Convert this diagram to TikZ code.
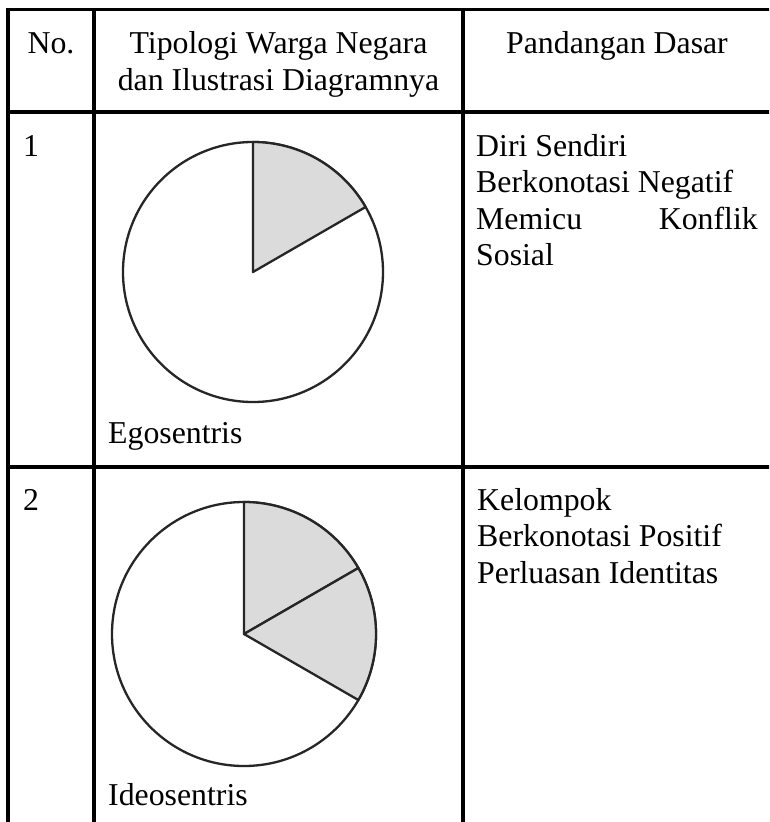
\documentclass[tikz,border=0pt]{standalone}
\usepackage{fontspec}
\setmainfont{Liberation Serif}
\tikzset{
  rule/.style={line width=3.2pt},
  cell/.style={inner sep=0pt, font=\fontsize{31.8}{36.6}\selectfont},
  pierim/.style={line width=2.3pt, draw=black!85},
  wedge/.style={fill=black!14, draw=black!85, line width=2.3pt, line join=round}
}
\begin{document}
\begin{tikzpicture}[x=1pt,y=-1pt]
\useasboundingbox (0,0) rectangle (769,822);
\fill[white] (0,0) rectangle (769,822);
\begin{scope}
  \clip (0,0) rectangle (769,822);
  % horizontal rules
  \draw[rule] (6.4,9.5) -- (775,9.5);
  \draw[rule] (6.4,112) -- (775,112);
  \draw[rule] (6.4,467) -- (775,467);
  % vertical rules
  \draw[rule] (8,8) -- (8,830);
  \draw[rule] (94,8) -- (94,830);
  \draw[rule] (463,8) -- (463,830);
\end{scope}
% header
\node[cell, anchor=base] (hno) at (51,53) {No.};
\node[cell, anchor=base] (htip1) at (278.5,53) {Tipologi Warga Negara};
\node[cell, anchor=base] (htip2) at (278.5,90) {dan Ilustrasi Diagramnya};
\node[cell, anchor=base] (hpan) at (617,53) {Pandangan Dasar};
% row 1
\node[cell, anchor=base west] (n1) at (23,156) {1};
\begin{scope}[shift={(253,272)}, yscale=-1]
  \draw[pierim] (0,0) circle[radius=130];
  \draw[wedge] (0,0) -- (90:130) arc[start angle=90, end angle=30, radius=130] -- cycle;
\end{scope}
\node[cell, anchor=base west] (ego) at (108,443) {Egosentris};
\node[cell, anchor=base west] (d1a) at (476,156) {Diri Sendiri};
\node[cell, anchor=base west] (d1b) at (476,192.5) {Berkonotasi Negatif};
\node[cell, anchor=base west] (d1c) at (476,229) {Memicu};
\node[cell, anchor=base east] (d1d) at (758,229) {Konflik};
\node[cell, anchor=base west] (d1e) at (476,265.5) {Sosial};
% row 2
\node[cell, anchor=base west] (n2) at (23,510) {2};
\begin{scope}[shift={(244,634)}, yscale=-1]
  \draw[pierim] (0,0) circle[radius=132];
  \draw[wedge] (0,0) -- (90:132) arc[start angle=90, end angle=30, radius=132] -- cycle;
  \draw[wedge] (0,0) -- (30:132) arc[start angle=30, end angle=-30, radius=132] -- cycle;
\end{scope}
\node[cell, anchor=base west] (ideo) at (108,805) {Ideosentris};
\node[cell, anchor=base west] (d2a) at (477,510) {Kelompok};
\node[cell, anchor=base west] (d2b) at (477,546.5) {Berkonotasi Positif};
\node[cell, anchor=base west] (d2c) at (477,583) {Perluasan Identitas};
\end{tikzpicture}
\end{document}
